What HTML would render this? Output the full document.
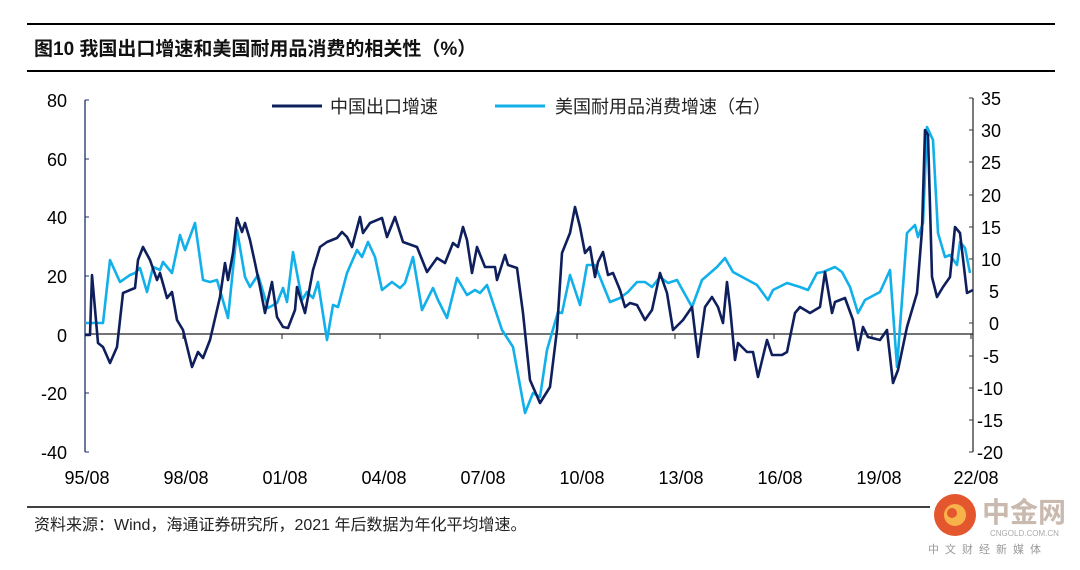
<!DOCTYPE html>
<html><head><meta charset="utf-8"><style>
body{margin:0;background:#fff;width:1080px;height:565px;overflow:hidden;}
svg text{font-family:"Liberation Sans","Noto Sans CJK SC",sans-serif;}
</style></head><body>
<svg width="1080" height="565" viewBox="0 0 1080 565" xmlns="http://www.w3.org/2000/svg">
<line x1="27" y1="24" x2="1055" y2="24" stroke="#000" stroke-width="2"/>
<line x1="27" y1="71" x2="1055" y2="71" stroke="#000" stroke-width="2"/>
<text x="34" y="55" font-size="19" font-weight="bold" fill="#111">图10 我国出口增速和美国耐用品消费的相关性（%）</text>
<!-- axes -->
<line x1="85" y1="100" x2="85" y2="452" stroke="#1f2f6b" stroke-width="1.3"/>
<line x1="973" y1="98" x2="973" y2="452" stroke="#333" stroke-width="1.3"/>
<g stroke="#1f2f6b" stroke-width="1">
<line x1="85" y1="100" x2="89" y2="100"/><line x1="85" y1="159" x2="89" y2="159"/><line x1="85" y1="217" x2="89" y2="217"/><line x1="85" y1="276" x2="89" y2="276"/><line x1="85" y1="335" x2="89" y2="335"/><line x1="85" y1="393" x2="89" y2="393"/><line x1="85" y1="452" x2="89" y2="452"/>
</g>
<g stroke="#333" stroke-width="1">
<line x1="969" y1="98" x2="973" y2="98"/><line x1="969" y1="130" x2="973" y2="130"/><line x1="969" y1="162" x2="973" y2="162"/><line x1="969" y1="195" x2="973" y2="195"/><line x1="969" y1="227" x2="973" y2="227"/><line x1="969" y1="259" x2="973" y2="259"/><line x1="969" y1="291" x2="973" y2="291"/><line x1="969" y1="323" x2="973" y2="323"/><line x1="969" y1="356" x2="973" y2="356"/><line x1="969" y1="388" x2="973" y2="388"/><line x1="969" y1="420" x2="973" y2="420"/><line x1="969" y1="452" x2="973" y2="452"/>
</g>
<line x1="85" y1="334" x2="973" y2="334" stroke="#222" stroke-width="1.2"/>
<g stroke="#222" stroke-width="1">
<line x1="183" y1="334" x2="183" y2="339"/><line x1="282" y1="334" x2="282" y2="339"/><line x1="380" y1="334" x2="380" y2="339"/><line x1="478" y1="334" x2="478" y2="339"/><line x1="577" y1="334" x2="577" y2="339"/><line x1="675" y1="334" x2="675" y2="339"/><line x1="774" y1="334" x2="774" y2="339"/><line x1="872" y1="334" x2="872" y2="339"/><line x1="971" y1="334" x2="971" y2="339"/>
</g>
<g font-size="18" fill="#000" text-anchor="end">
<text x="67" y="107">80</text><text x="67" y="166">60</text><text x="67" y="224">40</text><text x="67" y="283">20</text><text x="67" y="342">0</text><text x="67" y="400">-20</text><text x="67" y="459">-40</text>
</g>
<g font-size="18" fill="#000" text-anchor="start">
<text x="981" y="105">35</text><text x="981" y="137">30</text><text x="981" y="169">25</text><text x="981" y="202">20</text><text x="981" y="234">15</text><text x="981" y="266">10</text><text x="989" y="298">5</text><text x="989" y="330">0</text><text x="983" y="363">-5</text><text x="977" y="395">-10</text><text x="977" y="427">-15</text><text x="977" y="459">-20</text>
</g>
<g font-size="18" fill="#000" text-anchor="middle">
<text x="87" y="484">95/08</text><text x="186" y="484">98/08</text><text x="285" y="484">01/08</text><text x="384" y="484">04/08</text><text x="483" y="484">07/08</text><text x="582" y="484">10/08</text><text x="681" y="484">13/08</text><text x="780" y="484">16/08</text><text x="879" y="484">19/08</text><text x="976" y="484">22/08</text>
</g>
<!-- legend -->
<line x1="272" y1="106" x2="322" y2="106" stroke="#0f1f5c" stroke-width="3"/>
<text x="330" y="113" font-size="18" fill="#222">中国出口增速</text>
<line x1="495" y1="106" x2="545" y2="106" stroke="#12b0ea" stroke-width="3"/>
<text x="555" y="113" font-size="18" fill="#222">美国耐用品消费增速（右）</text>
<!-- light series -->
<polyline fill="none" stroke="#12b0ea" stroke-width="2.6" stroke-linejoin="round" points="85,323 103,323 110,260 120,282 130,275 135,273 140,268 147,292 153,267 160,270 163,262 172,273 180,235 185,250 195,223 203,280 210,282 217,280 228,318 237,230 245,277 250,287 258,275 268,308 277,303 283,288 287,302 293,252 302,300 307,292 313,298 318,282 327,340 333,305 338,307 347,273 357,250 362,257 368,242 375,257 382,290 392,282 400,288 405,283 413,257 422,310 433,288 438,300 447,318 457,278 467,295 475,290 480,293 487,285 502,330 513,347 525,413 533,393 540,397 547,350 558,312 562,313 570,275 580,305 587,265 595,265 610,302 620,298 628,292 637,282 645,282 652,287 660,277 668,283 677,280 692,307 702,280 717,267 725,258 733,272 757,285 768,300 773,290 787,283 800,287 808,290 817,273 823,272 835,267 842,272 850,287 858,313 865,300 880,292 890,270 897,367 907,233 915,225 918,237 923,223 927,127 933,140 938,233 945,257 950,255 957,265 960,242 965,248 970,273"/>
<!-- dark series -->
<polyline fill="none" stroke="#0f1f5c" stroke-width="2.6" stroke-linejoin="round" points="85,335 90,335 92,275 98,343 103,347 110,363 117,347 123,293 130,290 135,288 138,260 143,247 150,260 157,280 160,273 167,298 172,292 177,320 183,330 192,367 198,352 203,358 210,340 220,297 225,263 228,280 233,253 237,218 242,232 245,223 250,240 255,263 260,287 265,313 272,282 277,317 283,327 288,328 295,310 297,287 305,313 313,270 320,247 327,242 337,238 342,232 347,237 352,247 360,217 363,233 370,223 382,218 387,237 395,217 403,242 417,247 427,272 437,258 445,263 453,243 458,247 463,227 467,240 472,273 477,247 485,267 495,267 497,280 505,255 508,265 517,268 523,313 530,380 540,403 550,387 557,330 562,253 570,233 575,207 580,227 585,253 590,247 595,277 598,262 603,252 608,275 613,273 620,290 625,307 630,303 637,305 645,320 652,310 660,273 667,293 673,330 683,320 692,307 698,357 705,307 712,297 718,307 723,323 727,282 730,307 735,360 738,343 747,352 753,352 758,377 767,340 772,355 782,355 787,352 795,313 800,307 810,313 820,307 825,272 832,313 835,302 845,298 853,320 858,350 863,327 868,337 880,340 887,330 893,383 898,370 907,327 917,293 922,230 925,130 928,135 932,277 937,297 943,287 950,277 955,227 960,233 967,293 973,290"/>
<!-- footer -->
<line x1="27" y1="507" x2="930" y2="507" stroke="#000" stroke-width="1.5"/>
<text x="34" y="530" font-size="16" fill="#222">资料来源：Wind，海通证券研究所，2021 年后数据为年化平均增速。</text>
<circle cx="955" cy="515" r="21" fill="#e4572e"/>
<circle cx="955" cy="515" r="11" fill="#f8b24a"/>
<circle cx="952" cy="513" r="5" fill="#e4572e"/>
<text x="982" y="522" font-size="28" font-weight="bold" fill="#c9b9ae">中金网</text>
<text x="990" y="536" font-size="8" fill="#aaa">CNGOLD.COM.CN</text>
<text x="928" y="553" font-size="11" fill="#999" letter-spacing="6">中文财经新媒体</text>
</svg>
</body></html>
